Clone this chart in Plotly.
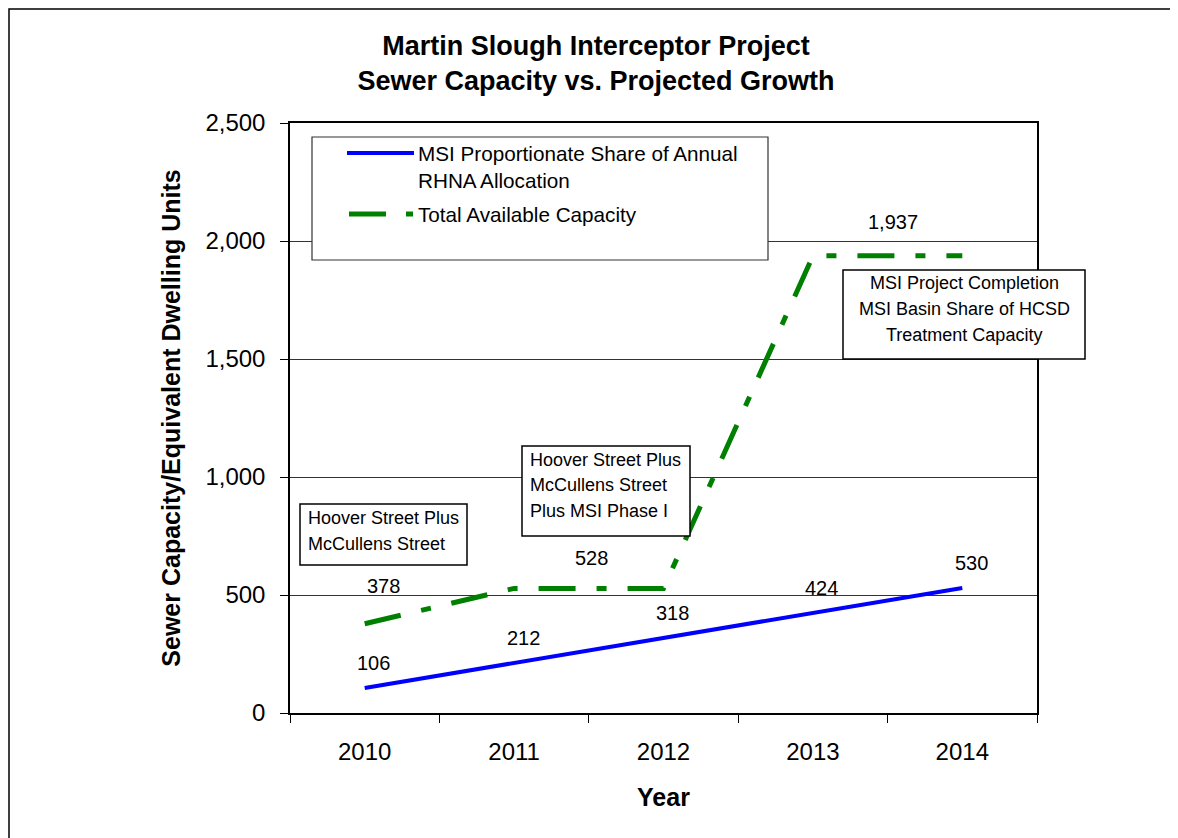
import plotly.graph_objects as go

FONT = "Liberation Sans, Arial, Helvetica, sans-serif"

years = ["2010", "2011", "2012", "2013", "2014"]
rhna_share = [106, 212, 318, 424, 530]
total_capacity = [378, 528, 528, 1937, 1937]

# capacity labels sit at a point or between two equal points
capacity_label_x = [0, 1.5, 3.5]
capacity_label_val = [total_capacity[0], total_capacity[1], total_capacity[3]]

box_notes = [
    ["Hoover Street Plus", "McCullens Street"],
    ["Hoover Street Plus", "McCullens Street", "Plus MSI Phase I"],
    ["MSI Project Completion", "MSI Basin Share of HCSD", "Treatment Capacity"],
]

BLUE = "rgb(0,0,255)"
GREEN = "rgb(0,128,0)"
GREEN_DASH = "37px,21px,10px,21px"

# page body adds an 8px margin, so the figure is drawn a bit smaller
OFF = 8
W, H = 1178 - OFF, 838 - OFF
# plot area in reference pixels
L, R, T, B = 290, 1037, 123, 713


def px_x(p):
    return (p - L) / (R - L)


def px_y(p):
    return (B - p) / (B - T)


fig = go.Figure()
fig.add_trace(
    go.Scatter(
        x=years,
        y=rhna_share,
        mode="lines",
        name="MSI Proportionate Share of Annual RHNA Allocation",
        line=dict(color=BLUE, width=4),
    )
)
fig.add_trace(
    go.Scatter(
        x=years,
        y=total_capacity,
        mode="lines",
        name="Total Available Capacity",
        line=dict(color=GREEN, width=5, dash=GREEN_DASH),
    )
)

annotations = []
for i, v in enumerate(rhna_share):
    annotations.append(
        dict(x=i, y=v, xref="x", yref="y", text=f"{v:,}", showarrow=False,
             xshift=9, yshift=25, font=dict(size=20, color="black"))
    )
for cx, v, xs, ys in zip(capacity_label_x, capacity_label_val, [19, 3, 5], [38, 30, 34]):
    annotations.append(
        dict(x=cx, y=v, xref="x", yref="y", text=f"{v:,}", showarrow=False,
             xshift=xs, yshift=ys, font=dict(size=20, color="black"))
    )

shapes = []


def text_box(lines, x0, y0, x1, y1, tx, ty, step, align):
    shapes.append(
        dict(type="rect", xref="paper", yref="paper", layer="above",
             x0=px_x(x0), x1=px_x(x1), y0=px_y(y1), y1=px_y(y0),
             line=dict(color="black", width=1.5), fillcolor="white")
    )
    for k, s in enumerate(lines):
        annotations.append(
            dict(x=px_x(tx), y=px_y(ty + k * step), xref="paper", yref="paper",
                 text=s, showarrow=False, xanchor=align, yanchor="middle",
                 font=dict(size=18, color="black"))
        )


text_box(box_notes[0], 300, 504, 467, 565, 306, 518, 26, "left")
text_box(box_notes[1], 522, 446, 690, 536, 528, 460, 25.5, "left")
text_box(box_notes[2], 843, 270, 1085, 359, 964, 283, 26, "center")

# legend drawn by hand so the box and keys match the original
shapes.append(
    dict(type="rect", xref="paper", yref="paper", layer="above",
         x0=px_x(312), x1=px_x(768), y0=px_y(260), y1=px_y(137),
         line=dict(color="#333", width=1.2), fillcolor="white")
)
shapes.append(
    dict(type="line", xref="paper", yref="paper", layer="above",
         x0=px_x(347), x1=px_x(414), y0=px_y(153), y1=px_y(153),
         line=dict(color=BLUE, width=4))
)
shapes.append(
    dict(type="line", xref="paper", yref="paper", layer="above",
         x0=px_x(349), x1=px_x(413), y0=px_y(214), y1=px_y(214),
         line=dict(color=GREEN, width=5, dash="37px,20px,8px,40px"))
)
annotations.append(
    dict(x=px_x(416), y=px_y(140), xref="paper", yref="paper",
         text="MSI Proportionate Share of Annual<br>RHNA Allocation",
         showarrow=False, xanchor="left", yanchor="top", align="left",
         font=dict(size=20.7, color="black"))
)
annotations.append(
    dict(x=px_x(416), y=px_y(214), xref="paper", yref="paper",
         text="Total Available Capacity", showarrow=False,
         xanchor="left", yanchor="middle", font=dict(size=20.7, color="black"))
)

# outer chart frame (left and top edges show in the picture)
shapes.append(
    dict(type="rect", xref="paper", yref="paper", layer="below",
         x0=px_x(9), x1=px_x(1200), y0=px_y(860), y1=px_y(9),
         line=dict(color="black", width=1.5))
)

fig.update_layout(
    width=W,
    height=H,
    margin=dict(l=L - OFF, r=W - (R - OFF), t=T - OFF, b=H - (B - OFF)),
    paper_bgcolor="white",
    plot_bgcolor="white",
    showlegend=False,
    font=dict(family=FONT, color="black"),
    title=dict(
        text="<b>Martin Slough Interceptor Project<br>Sewer Capacity vs. Projected Growth</b>",
        x=(596 - OFF) / W,
        xanchor="center",
        y=1 - 46.5 / H,
        yanchor="middle",
        font=dict(size=27, color="black"),
    ),
    xaxis=dict(
        type="category",
        range=[-0.5, 4.5],
        tickson="boundaries",
        ticks="outside",
        ticklen=8,
        tickcolor="black",
        showline=True,
        linecolor="black",
        linewidth=1.5,
        mirror=True,
        showgrid=False,
        tickfont=dict(size=24),
        ticklabelstandoff=16,
        title=dict(text="<b>Year</b>", font=dict(size=25), standoff=25),
    ),
    yaxis=dict(
        range=[0, 2500],
        dtick=500,
        tickformat=",",
        ticks="outside",
        ticklen=8,
        tickcolor="black",
        showline=True,
        linecolor="black",
        linewidth=1.5,
        mirror=True,
        showgrid=True,
        gridcolor="#333",
        gridwidth=1,
        zeroline=False,
        tickfont=dict(size=24),
        ticklabelstandoff=10,
        title=dict(text="<b>Sewer Capacity/Equivalent Dwelling Units</b>",
                   font=dict(size=25), standoff=18),
    ),
    annotations=annotations,
    shapes=shapes,
)

fig.write_html("out.html")
